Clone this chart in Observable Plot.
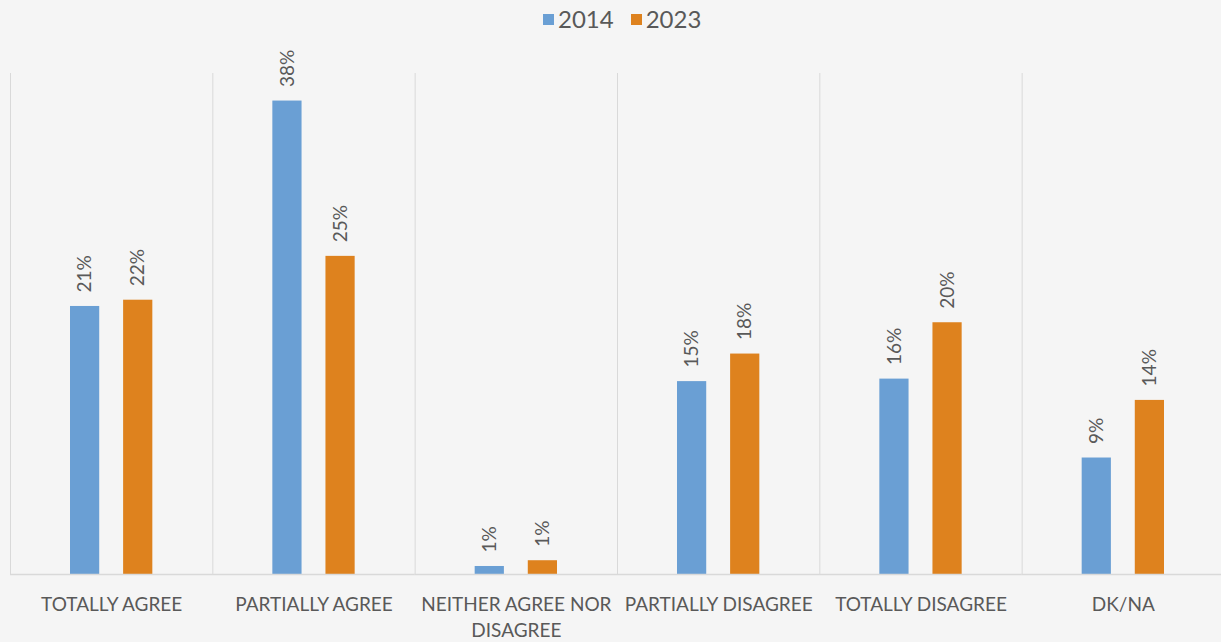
<!DOCTYPE html>
<html>
<head>
<meta charset="utf-8">
<script src="https://cdn.jsdelivr.net/npm/d3@7"></script>
<script src="https://cdn.jsdelivr.net/npm/@observablehq/plot@0.6"></script>
<style>
  html, body { margin: 0; padding: 0; background: #f5f5f5; }
  body { width: 1221px; height: 642px; overflow: hidden; position: relative; font-family: Lato, "Open Sans", sans-serif; }
  #legend { position: absolute; top: 3px; left: 543px; display: flex; align-items: center; font-size: 24px; line-height: 32px; color: #595959; }
  #legend .item { display: flex; align-items: center; margin-right: 17px; }
  #legend .sw { width: 11px; height: 11px; margin-right: 4px; }
  #chart { position: absolute; top: 40px; left: 0; }
</style>
</head>
<body>
<div id="legend"></div>
<div id="chart"></div>
<script>
const categories = ["TOTALLY AGREE", "PARTIALLY AGREE", "NEITHER AGREE NOR DISAGREE", "PARTIALLY DISAGREE", "TOTALLY DISAGREE", "DK/NA"];
const years = ["2014", "2023"];
const values2014 = [21.4, 37.8, 0.64, 15.4, 15.6, 9.3];
const values2023 = [21.9, 25.4, 1.1, 17.6, 20.1, 13.9];
const labels2014 = ["21%", "38%", "1%", "15%", "16%", "9%"];
const labels2023 = ["22%", "25%", "1%", "18%", "20%", "14%"];
const colors = ["#6a9fd4", "#de821e"];

const data = [];
categories.forEach((c, i) => {
  data.push({category: c, year: years[0], value: values2014[i], label: labels2014[i]});
  data.push({category: c, year: years[1], value: values2023[i], label: labels2023[i]});
});

const legend = document.getElementById("legend");
years.forEach((y, i) => {
  const it = document.createElement("div");
  it.className = "item";
  const sw = document.createElement("span");
  sw.className = "sw";
  sw.style.background = colors[i];
  const t = document.createElement("span");
  t.textContent = y;
  it.appendChild(sw); it.appendChild(t);
  legend.appendChild(it);
});

const wrap = d => d === "NEITHER AGREE NOR DISAGREE" ? "NEITHER AGREE NOR\nDISAGREE" : d;

const plot = Plot.plot({
  width: 1221,
  height: 602,
  marginTop: 33,
  marginBottom: 68,
  marginLeft: 10,
  marginRight: -3,
  style: {background: "transparent", fontFamily: "Lato, 'Open Sans', sans-serif", overflow: "visible"},
  fx: {domain: categories, padding: 0, round: false},
  x: {domain: years, paddingInner: 0.45, paddingOuter: 1.13, round: false, axis: null},
  y: {domain: [0, 40], axis: null},
  color: {domain: years, range: colors},
  marks: [
    Plot.frame({anchor: "left", stroke: "#d9d9d9", strokeOpacity: 1}),
    Plot.barY(data, {fx: "category", x: "year", y: "value", fill: "year"}),
    Plot.ruleY([0], {stroke: "#d9d9d9", strokeWidth: 1.5}),
    Plot.text(data, {fx: "category", x: "year", y: "value", text: "label", rotate: -90, textAnchor: "start", dy: -14, fill: "#595959", fontSize: 19}),
    Plot.axisFx({anchor: "bottom", tickSize: 0, tickPadding: 18, fontSize: 19, lineHeight: 1.37, fill: "#595959", tickFormat: wrap, label: null})
  ]
});
document.getElementById("chart").appendChild(plot);
</script>
</body>
</html>
